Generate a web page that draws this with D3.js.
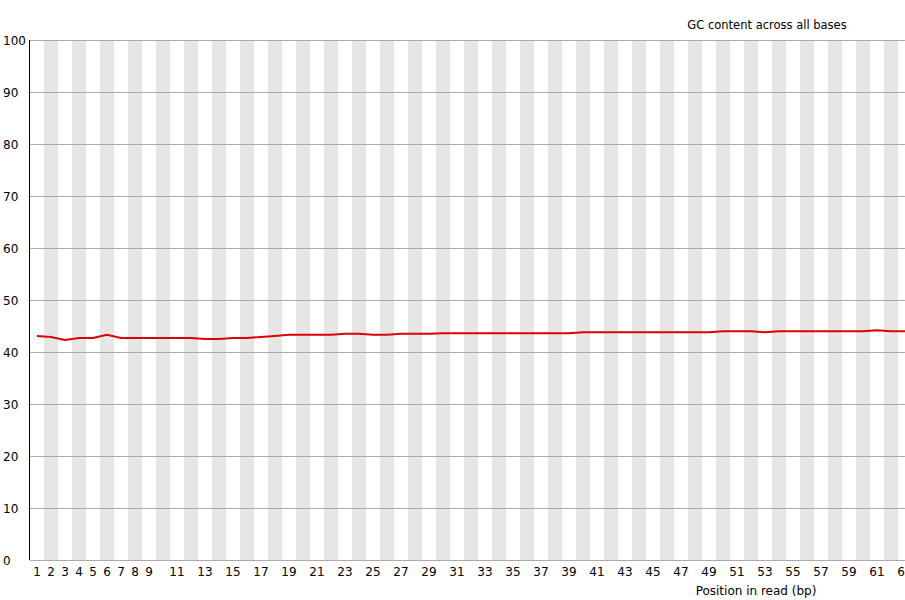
<!DOCTYPE html>
<html>
<head>
<meta charset="utf-8">
<title>GC content across all bases</title>
<script src="https://cdn.jsdelivr.net/npm/d3@7"></script>
<style>
    body { margin: 0; background: #fff; overflow: hidden; }
    text { font-family: "DejaVu Sans", sans-serif; font-size: 12px; fill: #000; }
</style>
</head>
<body>
<svg id="chart"></svg>
<script>
    // read positions 1..63
    const positions = d3.range(1, 64);

    // %GC per position
    const gcValues = [
        43.1, 42.9, 42.3, 42.7, 42.7, 43.3, 42.7, 42.7, 42.7, 42.7,
        42.7, 42.7, 42.5, 42.5, 42.7, 42.7, 42.9, 43.1, 43.3, 43.3,
        43.3, 43.3, 43.5, 43.5, 43.3, 43.3, 43.5, 43.5, 43.5, 43.6,
        43.6, 43.6, 43.6, 43.6, 43.6, 43.6, 43.6, 43.6, 43.6, 43.8,
        43.8, 43.8, 43.8, 43.8, 43.8, 43.8, 43.8, 43.8, 43.8, 44.0,
        44.0, 44.0, 43.8, 44.0, 44.0, 44.0, 44.0, 44.0, 44.0, 44.0,
        44.2, 44.0, 44.0
    ];

    // labels that fit under the axis
    const xTickLabels = [1, 2, 3, 4, 5, 6, 7, 8, 9, 11, 13, 15, 17, 19, 21, 23, 25, 27, 29,
        31, 33, 35, 37, 39, 41, 43, 45, 47, 49, 51, 53, 55, 57, 59, 61, 63];
    const yTicks = [0, 10, 20, 30, 40, 50, 60, 70, 80, 90, 100];

    const width = 905, height = 600;
    // the plot runs a little past the right edge of the picture
    const plotLeft = 30, plotRight = 30 + 63 * 14, plotTop = 40, plotBottom = 560;

    const svg = d3.select("#chart").attr("width", width).attr("height", height);

    const x = d3.scaleBand().domain(positions).range([plotLeft, plotRight]);
    const y = d3.scaleLinear().domain([0, 100]).range([plotBottom, plotTop]);

    // alternating bands
    svg.append("g").selectAll("rect")
        .data(positions.filter(p => p % 2 === 0))
        .enter().append("rect")
        .attr("x", d => x(d))
        .attr("y", plotTop)
        .attr("width", x.bandwidth())
        .attr("height", plotBottom - plotTop)
        .attr("fill", "#e6e6e6");

    // horizontal grid lines
    svg.append("g").selectAll("line")
        .data(yTicks.filter(t => t > 0))
        .enter().append("line")
        .attr("x1", plotLeft).attr("x2", plotRight)
        .attr("y1", d => y(d) + 0.5).attr("y2", d => y(d) + 0.5)
        .attr("stroke", "#aaaaaa");

    // y labels
    svg.append("g").selectAll("text")
        .data(yTicks)
        .enter().append("text")
        .attr("x", 3)
        .attr("y", d => y(d) + 5)
        .text(d => d);

    // x labels
    svg.append("g").selectAll("text")
        .data(xTickLabels)
        .enter().append("text")
        .attr("x", d => x(d) + x.bandwidth() / 2)
        .attr("y", 576)
        .attr("text-anchor", "middle")
        .text(d => d);

    // axes
    svg.append("line")
        .attr("x1", plotLeft - 0.5).attr("x2", plotLeft - 0.5)
        .attr("y1", plotTop).attr("y2", plotBottom)
        .attr("stroke", "#000");
    svg.append("line")
        .attr("x1", plotLeft).attr("x2", plotRight)
        .attr("y1", plotBottom + 0.5).attr("y2", plotBottom + 0.5)
        .attr("stroke", "#aaaaaa");

    // GC line
    const line = d3.line()
        .x((d, i) => x(positions[i]) + x.bandwidth() / 2)
        .y(d => y(d));

    svg.append("path")
        .datum(gcValues)
        .attr("d", line)
        .attr("fill", "none")
        .attr("stroke", "#dd0000")
        .attr("stroke-width", 2);

    svg.append("text")
        .attr("x", 767).attr("y", 29)
        .attr("text-anchor", "middle")
        .style("font-size", "11.5px")
        .text("GC content across all bases");

    svg.append("text")
        .attr("x", 756).attr("y", 595)
        .attr("text-anchor", "middle")
        .text("Position in read (bp)");
</script>
</body>
</html>
